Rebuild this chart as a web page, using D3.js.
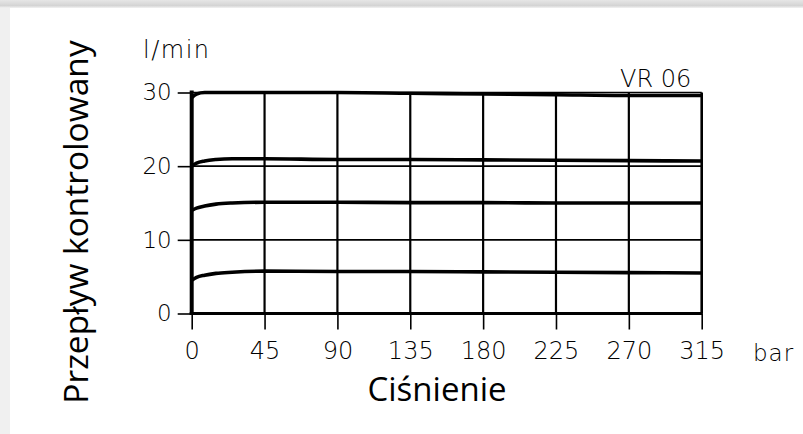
<!DOCTYPE html>
<html>
<head>
<meta charset="utf-8">
<script src="https://cdn.jsdelivr.net/npm/d3@7"></script>
<style>
  html, body { margin: 0; padding: 0; background: #fff; }
  svg { display: block; }
</style>
</head>
<body>
<svg id="chart" width="803" height="434"></svg>
<script>
// ---- data ----
const pressureTicks = [0, 45, 90, 135, 180, 225, 270, 315];
const flowTicks = [0, 10, 20, 30];
const pressure = [0, 3, 8, 15, 25, 45, 90, 135, 180, 225, 270, 315];
const flow30 = [29.3, 29.8, 30.0, 30.0, 30.0, 30.0, 30.0, 29.9, 29.8, 29.7, 29.6, 29.6];
const flow20 = [20.0, 20.4, 20.7, 20.9, 21.0, 21.0, 20.9, 20.9, 20.85, 20.8, 20.75, 20.7];
const flow15 = [14.0, 14.3, 14.6, 14.85, 15.0, 15.1, 15.1, 15.05, 15.05, 15.0, 15.0, 15.0];
const flow5  = [4.5, 4.9, 5.2, 5.45, 5.6, 5.75, 5.7, 5.7, 5.65, 5.6, 5.55, 5.5];
const seriesList = [flow30, flow20, flow15, flow5];

const xLabel = "Ciśnienie";
const yLabel = "Przepływ kontrolowany";
const unitY = "l/min";
const unitX = "bar";
const modelName = "VR 06";

// ---- drawing ----
const svg = d3.select("#chart");

// page frame / shadow
const defs = svg.append("defs");
const g1 = defs.append("linearGradient").attr("id", "topShadow").attr("x1", 0).attr("y1", 0).attr("x2", 0).attr("y2", 1);
g1.append("stop").attr("offset", "0%").attr("stop-color", "#e6e6e6");
g1.append("stop").attr("offset", "70%").attr("stop-color", "#d4d4d4");
g1.append("stop").attr("offset", "100%").attr("stop-color", "#f2f2f2");
svg.append("rect").attr("x", 0).attr("y", 0).attr("width", 803).attr("height", 434).attr("fill", "#f0f0f0");
svg.append("rect").attr("x", 0).attr("y", 0).attr("width", 803).attr("height", 8).attr("fill", "url(#topShadow)");
svg.append("rect").attr("x", 10).attr("y", 8).attr("width", 793).attr("height", 426).attr("fill", "#ffffff");

const x = d3.scaleLinear().domain([0, 315]).range([191.7, 701.7]);
const y = d3.scaleLinear().domain([0, 30]).range([313.5, 92.5]);

const techFont = "'DejaVu Sans', sans-serif";

// horizontal grid (thin)
svg.append("g").selectAll("line")
  .data(flowTicks.filter(d => d > 0))
  .join("line")
  .attr("x1", x(0)).attr("x2", x(315))
  .attr("y1", d => y(d)).attr("y2", d => y(d))
  .attr("stroke", "#000").attr("stroke-width", 1.6);

// vertical grid
svg.append("g").selectAll("line")
  .data(pressureTicks.filter(d => d > 0))
  .join("line")
  .attr("x1", d => x(d)).attr("x2", d => x(d))
  .attr("y1", y(30)).attr("y2", y(0))
  .attr("stroke", "#000").attr("stroke-width", d => d === 315 ? 2.6 : 2.2);

// axes (ticks + labels)
const xAxis = d3.axisBottom(x).tickValues(pressureTicks).tickSize(16).tickPadding(12).tickFormat(d3.format("d"));
const gx = svg.append("g").attr("transform", `translate(0,${y(0)})`).call(xAxis);
gx.select(".domain").remove();
gx.selectAll(".tick line").attr("stroke", "#000").attr("stroke-width", 1.6);
gx.selectAll(".tick text").attr("fill", "#000").style("font-family", techFont)
  .style("font-size", "24px").style("font-weight", 200);

const yAxis = d3.axisLeft(y).tickValues(flowTicks).tickSize(14).tickPadding(6).tickFormat(d3.format("d"));
const gy = svg.append("g").attr("transform", `translate(${x(0)},0)`).call(yAxis);
gy.select(".domain").remove();
gy.selectAll(".tick line").attr("stroke", "#000").attr("stroke-width", 1.6);
gy.selectAll(".tick text").attr("fill", "#000").style("font-family", techFont)
  .style("font-size", "23px").style("font-weight", 200);

// main axis lines (thick)
svg.append("line").attr("x1", x(0)).attr("x2", x(0)).attr("y1", y(30) - 2).attr("y2", y(0) + 1)
  .attr("stroke", "#000").attr("stroke-width", 4);
svg.append("line").attr("x1", x(0) - 2).attr("x2", x(315) + 1).attr("y1", y(0)).attr("y2", y(0))
  .attr("stroke", "#000").attr("stroke-width", 3.2);

// curves
const line = d3.line()
  .x((d, i) => x(pressure[i]))
  .y(d => y(d))
  .curve(d3.curveMonotoneX);
svg.append("g").selectAll("path")
  .data(seriesList)
  .join("path")
  .attr("d", d => line(d))
  .attr("fill", "none")
  .attr("stroke", "#000")
  .attr("stroke-width", 3.6);

// unit labels
svg.append("text").attr("x", 143).attr("y", 58).text(unitY)
  .style("font-family", techFont).style("font-size", "24px").style("font-weight", 200)
  .attr("letter-spacing", "1.5px").attr("fill", "#000");
svg.append("text").attr("x", 620).attr("y", 87).text(modelName)
  .style("font-family", techFont).style("font-size", "24px").style("font-weight", 200)
  .attr("fill", "#000");
svg.append("text").attr("x", 753).attr("y", 361).text(unitX)
  .style("font-family", techFont).style("font-size", "23px").style("font-weight", 200)
  .attr("letter-spacing", "1px").attr("fill", "#000");

// axis titles
const titleFont = "'Open Sans', 'Noto Sans', sans-serif";
svg.append("text")
  .attr("transform", "translate(88,222) rotate(-90)")
  .attr("text-anchor", "middle")
  .text(yLabel)
  .style("font-family", titleFont).style("font-size", "33.5px").attr("fill", "#000");
svg.append("text")
  .attr("x", 437).attr("y", 401)
  .attr("text-anchor", "middle")
  .text(xLabel)
  .style("font-family", titleFont).style("font-size", "33px").attr("fill", "#000");
</script>
</body>
</html>
